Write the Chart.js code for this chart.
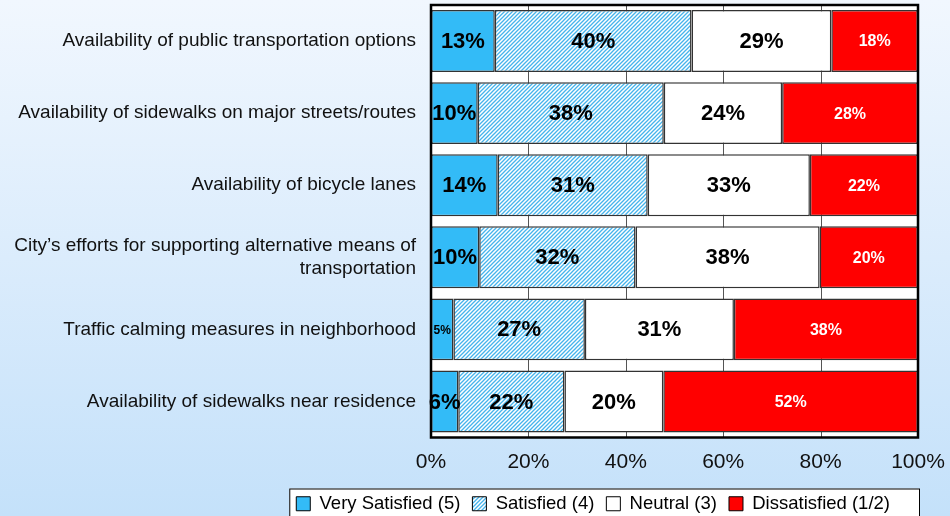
<!DOCTYPE html>
<html>
<head>
<meta charset="utf-8">
<script src="https://cdn.jsdelivr.net/npm/chart.js@4/dist/chart.umd.min.js"></script>
<style>
    html, body { margin: 0; padding: 0; }
    body {
        width: 950px;
        height: 516px;
        overflow: hidden;
        background: linear-gradient(to bottom, #f1f7fe 0%, #dbecfc 50%, #c4e1fa 100%);
    }
    canvas { display: block; }
</style>
</head>
<body>
<canvas id="satisfaction" width="950" height="516"></canvas>
<script>
var categories = [
    "Availability of public transportation options",
    "Availability of sidewalks on major streets/routes",
    "Availability of bicycle lanes",
    ["City\u2019s efforts for supporting alternative means of", "transportation"],
    "Traffic calming measures in neighborhood",
    "Availability of sidewalks near residence"
];
var seriesNames = ["Very Satisfied (5)", "Satisfied (4)", "Neutral (3)", "Dissatisfied (1/2)"];
var verySatisfied = [13.1, 9.6, 13.7, 9.9, 4.6, 5.6];
var satisfied = [40.4, 38.2, 30.8, 32.1, 27.0, 21.8];
var neutral = [28.7, 24.3, 33.3, 37.8, 30.6, 20.3];
var dissatisfied = [17.8, 27.9, 22.2, 20.2, 37.8, 52.3];
var tickValues = [0, 20, 40, 60, 80, 100];

var FONT = "'Liberation Sans', Arial, sans-serif";
var LEGEND_SHIFT = 16;
var LEGEND_PAD = 12;

function makeHatch() {
    var c = document.createElement('canvas');
    c.width = 4;
    c.height = 4;
    var g = c.getContext('2d');
    g.fillStyle = '#ffffff';
    g.fillRect(0, 0, 4, 4);
    g.strokeStyle = '#45b4ec';
    g.lineWidth = 1.3;
    g.beginPath();
    g.moveTo(-1, 5); g.lineTo(5, -1);
    g.moveTo(-1, 1); g.lineTo(1, -1);
    g.moveTo(3, 5); g.lineTo(5, 3);
    g.stroke();
    return g.createPattern(c, 'repeat');
}

// legend placement and box, plot background, value labels and frame
var framePlugin = {
    id: 'frame',
    afterLayout: function (chart) {
        var lg = chart.legend;
        if (!lg) return;
        // hit boxes are rebuilt from these edges right after layout
        var dy = (chart.chartArea.bottom + 57) - (lg.top + LEGEND_PAD);
        lg.left -= LEGEND_SHIFT;
        lg.right -= LEGEND_SHIFT;
        lg.top += dy;
        lg.bottom += dy;
    },
    beforeDraw: function (chart) {
        var boxes = chart.legend && chart.legend.legendHitBoxes;
        if (!boxes || !boxes.length) return;
        var ctx = chart.ctx;
        var first = boxes[0];
        var x0 = first.left - 7, x1 = chart.chartArea.right + 1;
        var y0 = first.top - 6;
        ctx.save();
        ctx.fillStyle = '#ffffff';
        ctx.fillRect(x0, y0, x1 - x0, chart.height - y0 + 5);
        ctx.strokeStyle = '#000000';
        ctx.lineWidth = 1;
        ctx.strokeRect(x0 + 0.5, y0 + 0.5, x1 - x0, chart.height - y0 + 5);
        ctx.restore();
    },
    beforeDatasetsDraw: function (chart) {
        var a = chart.chartArea;
        var ctx = chart.ctx;
        ctx.save();
        ctx.fillStyle = '#ffffff';
        ctx.fillRect(a.left, a.top, a.right - a.left, a.bottom - a.top);
        ctx.strokeStyle = '#555555';
        ctx.lineWidth = 1;
        var xs = chart.scales.x;
        tickValues.forEach(function (v) {
            var px = Math.round(xs.getPixelForValue(v)) + 0.5;
            ctx.beginPath();
            ctx.moveTo(px, a.top);
            ctx.lineTo(px, a.bottom);
            ctx.stroke();
        });
        ctx.restore();
    },
    afterDatasetsDraw: function (chart) {
        var a = chart.chartArea;
        var ctx = chart.ctx;
        ctx.save();
        ctx.textAlign = 'center';
        ctx.textBaseline = 'middle';
        chart.data.datasets.forEach(function (ds, di) {
            var meta = chart.getDatasetMeta(di);
            meta.data.forEach(function (bar, i) {
                var v = ds.data[i];
                var size = di === 3 ? 16 : (v < 5 ? 12 : 22);
                ctx.font = 'bold ' + size + 'px ' + FONT;
                ctx.fillStyle = di === 3 ? '#ffffff' : '#000000';
                ctx.fillText(Math.round(v) + '%', (bar.x + bar.base) / 2, bar.y + 1);
            });
        });
        ctx.strokeStyle = '#000000';
        ctx.lineWidth = 2.5;
        ctx.strokeRect(a.left, a.top, a.right - a.left, a.bottom - a.top);
        ctx.restore();
    }
};

var ctx = document.getElementById('satisfaction').getContext('2d');
var hatch = makeHatch();

new Chart(ctx, {
    type: 'bar',
    data: {
        labels: categories,
        datasets: [
            { label: seriesNames[0], data: verySatisfied, backgroundColor: '#33bbf7' },
            { label: seriesNames[1], data: satisfied, backgroundColor: hatch },
            { label: seriesNames[2], data: neutral, backgroundColor: '#ffffff' },
            { label: seriesNames[3], data: dissatisfied, backgroundColor: '#ff0000' }
        ]
    },
    options: {
        indexAxis: 'y',
        responsive: false,
        animation: false,
        devicePixelRatio: 1,
        datasets: {
            bar: {
                borderColor: '#333333',
                borderWidth: 1.5,
                borderSkipped: false,
                categoryPercentage: 1,
                barPercentage: 0.86
            }
        },
        layout: { padding: { left: 0, right: 32, top: 5, bottom: 0 } },
        scales: {
            x: {
                stacked: true,
                min: 0,
                max: 100,
                afterFit: function (scale) {
                    scale.height = 38;
                    scale.paddingLeft = 0;
                    scale.paddingRight = 0;
                },
                afterBuildTicks: function (scale) {
                    scale.ticks = tickValues.map(function (v) { return { value: v }; });
                },
                grid: { display: false },
                border: { display: false },
                ticks: {
                    padding: 4,
                    color: '#111111',
                    font: { family: FONT, size: 21 },
                    callback: function (v) { return v + '%'; }
                }
            },
            y: {
                stacked: true,
                afterFit: function (scale) {
                    scale.width = 431;
                    scale.paddingTop = 0;
                    scale.paddingBottom = 0;
                },
                grid: { display: false, drawTicks: false },
                border: { display: false },
                ticks: {
                    padding: 15,
                    color: '#111111',
                    font: { family: FONT, size: 19 }
                }
            }
        },
        plugins: {
            tooltip: { enabled: false },
            legend: {
                position: 'bottom',
                align: 'end',
                labels: {
                    boxWidth: 14,
                    boxHeight: 14,
                    padding: LEGEND_PAD,
                    color: '#111111',
                    font: { family: FONT, size: 18.5 },
                    generateLabels: function (chart) {
                        return chart.data.datasets.map(function (ds, i) {
                            return {
                                text: ds.label,
                                fillStyle: ds.backgroundColor,
                                strokeStyle: '#000000',
                                lineWidth: 1,
                                datasetIndex: i
                            };
                        });
                    }
                }
            }
        }
    },
    plugins: [framePlugin]
});
</script>
</body>
</html>
